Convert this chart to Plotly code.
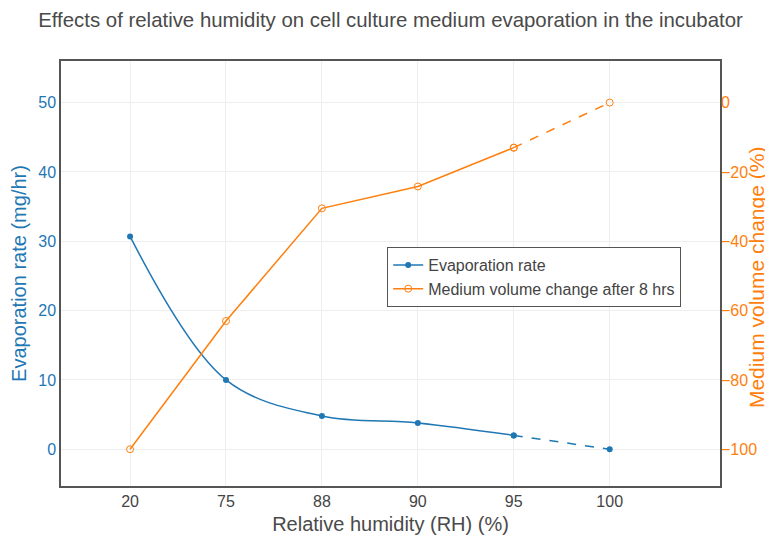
import plotly.graph_objects as go

humidity = ["20", "75", "88", "90", "95", "100"]
evaporation_rate = [30.7, 10.0, 4.8, 3.8, 2.0, 0.0]
volume_change = [-100, -63, -30.5, -24.2, -13, 0]

BLUE = "#1f77b4"
ORANGE = "#ff7f0e"
GREY = "#444444"
FONT = "Liberation Sans, Arial, sans-serif"

fig = go.Figure()

# Evaporation rate: solid spline for measured points, dashed to 100%
fig.add_trace(go.Scatter(
    x=humidity[:5], y=evaporation_rate[:5], name="Evaporation rate",
    mode="lines+markers", line=dict(color=BLUE, width=1.5, shape="spline"),
    marker=dict(color=BLUE, size=6), yaxis="y"))
fig.add_trace(go.Scatter(
    x=humidity[4:], y=evaporation_rate[4:], name="Evaporation rate",
    mode="lines+markers", line=dict(color=BLUE, width=1.5, dash="dash"),
    marker=dict(color=BLUE, size=6), yaxis="y", showlegend=False))

# Medium volume change
fig.add_trace(go.Scatter(
    x=humidity[:5], y=volume_change[:5], name="Medium volume change after 8 hrs",
    mode="lines+markers", line=dict(color=ORANGE, width=1.5),
    marker=dict(color=ORANGE, size=7, symbol="circle-open"), yaxis="y2"))
fig.add_trace(go.Scatter(
    x=humidity[4:], y=volume_change[4:], name="Medium volume change after 8 hrs",
    mode="lines+markers", line=dict(color=ORANGE, width=1.5, dash="dash"),
    marker=dict(color=ORANGE, size=7, symbol="circle-open"), yaxis="y2",
    showlegend=False))

# The page body adds an 8px margin, so the figure is sized to fit the window.
fig.update_layout(
    width=765, height=530,
    margin=dict(l=53, r=53, t=53, b=52, autoexpand=False),
    paper_bgcolor="white", plot_bgcolor="white",
    font=dict(family=FONT, color=GREY, size=16),
    title=dict(text="Effects of relative humidity on cell culture medium evaporation in the incubator",
               x=0.5, xref="paper", xanchor="center", y=0.977, yanchor="middle",
               font=dict(size=20.4, color="#4a4a4a", family=FONT)),
    xaxis=dict(type="category", range=[-0.72, 6.15],
               title=dict(text="Relative humidity (RH) (%)", font=dict(size=20, color="#4a4a4a"), standoff=8),
               tickfont=dict(size=16, color=GREY),
               showgrid=True, gridcolor="#eeeeee",
               showline=True, linecolor="#555555", linewidth=1.5, mirror=True,
               zeroline=False),
    yaxis=dict(range=[-5.3, 56], dtick=10,
               title=dict(text="Evaporation rate (mg/hr)", font=dict(size=20, color=BLUE), standoff=6),
               tickfont=dict(size=16, color=BLUE),
               showgrid=True, gridcolor="#eeeeee",
               showline=True, linecolor="#555555", linewidth=1.5, mirror=True,
               zeroline=False),
    yaxis2=dict(range=[-110.6, 12], dtick=20, overlaying="y", side="right",
                tickfont=dict(size=16, color=ORANGE),
                showgrid=False, showline=False, zeroline=False),
    legend=dict(x=0.495, y=0.5624, xanchor="left", yanchor="top",
                tracegroupgap=0, itemwidth=30,
                bordercolor="#555555", borderwidth=1, bgcolor="white",
                font=dict(size=16, color=GREY)),
    annotations=[dict(text="Medium volume change (%)", xref="paper", yref="paper",
                      x=1.0555, y=0.4906, xanchor="center", yanchor="middle",
                      textangle=-90, showarrow=False,
                      font=dict(size=21, color=ORANGE, family=FONT))],
)

fig.write_html("out.html")
